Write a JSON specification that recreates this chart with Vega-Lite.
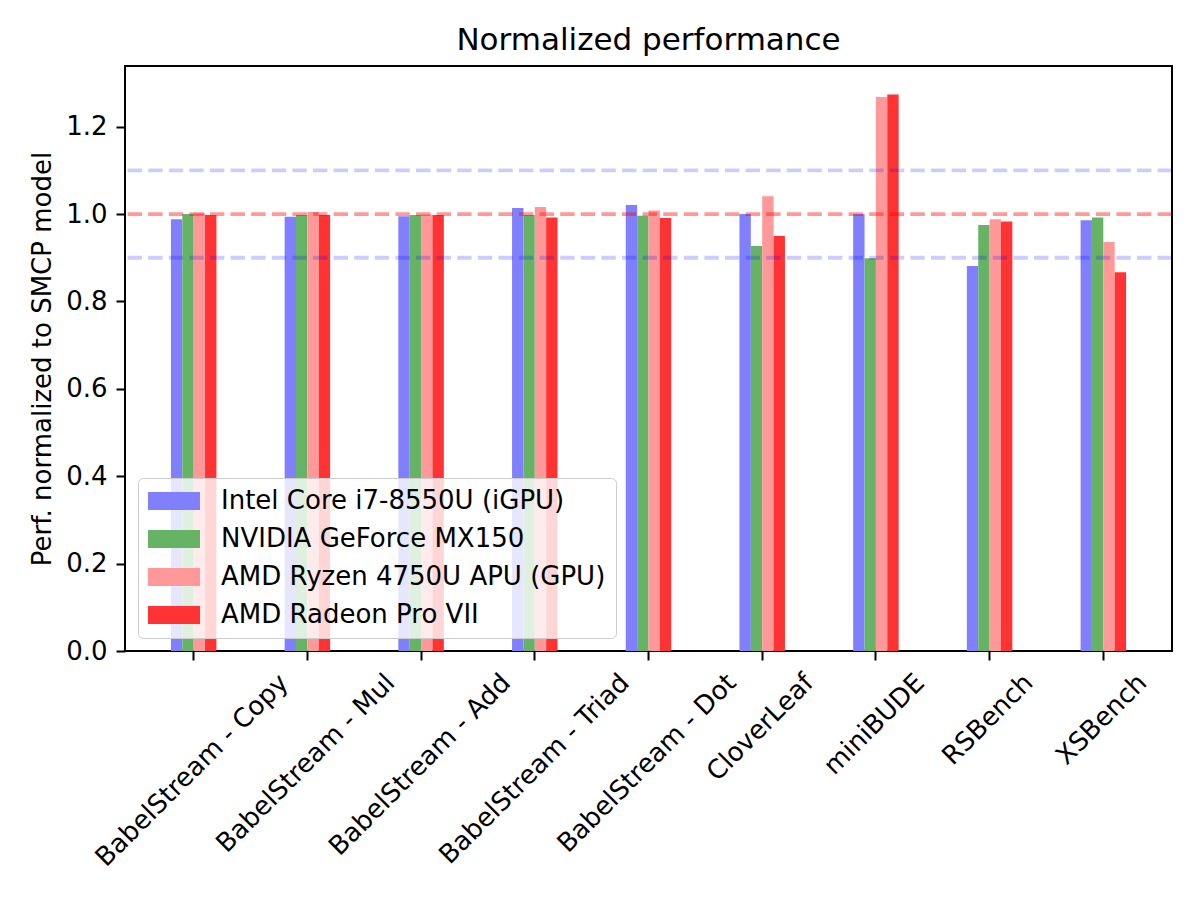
{
  "$schema": "https://vega.github.io/schema/vega-lite/v6.json",
  "autosize": {"type": "none"},
  "padding": {"left": 125, "top": 66, "right": 28, "bottom": 249},
  "width": 1047,
  "height": 585,
  "background": "white",
  "config": {
    "font": "DejaVu Sans",
    "view": {"stroke": "black", "strokeWidth": 2},
    "axis": {
      "labelFont": "DejaVu Sans",
      "titleFont": "DejaVu Sans",
      "labelFontSize": 26,
      "titleFontSize": 26,
      "titleFontWeight": "normal",
      "labelColor": "black",
      "titleColor": "black",
      "tickColor": "black",
      "tickSize": 9,
      "tickWidth": 2,
      "domain": false,
      "grid": false,
      "labelPadding": 9
    },
    "legend": {
      "labelFont": "DejaVu Sans",
      "labelFontSize": 26,
      "labelColor": "black",
      "labelLimit": 0
    }
  },
  "title": {
    "text": "Normalized performance",
    "fontSize": 31,
    "fontWeight": "normal",
    "font": "DejaVu Sans",
    "color": "black",
    "offset": 9
  },
  "data": {
    "values": [
      {"benchmark": "BabelStream - Copy", "device": "Intel Core i7-8550U (iGPU)", "value": 0.988},
      {"benchmark": "BabelStream - Copy", "device": "NVIDIA GeForce MX150", "value": 1.0},
      {"benchmark": "BabelStream - Copy", "device": "AMD Ryzen 4750U APU (GPU)", "value": 1.002},
      {"benchmark": "BabelStream - Copy", "device": "AMD Radeon Pro VII", "value": 0.998},
      {"benchmark": "BabelStream - Mul", "device": "Intel Core i7-8550U (iGPU)", "value": 0.994},
      {"benchmark": "BabelStream - Mul", "device": "NVIDIA GeForce MX150", "value": 0.998},
      {"benchmark": "BabelStream - Mul", "device": "AMD Ryzen 4750U APU (GPU)", "value": 1.005},
      {"benchmark": "BabelStream - Mul", "device": "AMD Radeon Pro VII", "value": 0.998},
      {"benchmark": "BabelStream - Add", "device": "Intel Core i7-8550U (iGPU)", "value": 0.995},
      {"benchmark": "BabelStream - Add", "device": "NVIDIA GeForce MX150", "value": 0.998},
      {"benchmark": "BabelStream - Add", "device": "AMD Ryzen 4750U APU (GPU)", "value": 0.999},
      {"benchmark": "BabelStream - Add", "device": "AMD Radeon Pro VII", "value": 0.998},
      {"benchmark": "BabelStream - Triad", "device": "Intel Core i7-8550U (iGPU)", "value": 1.014},
      {"benchmark": "BabelStream - Triad", "device": "NVIDIA GeForce MX150", "value": 0.998},
      {"benchmark": "BabelStream - Triad", "device": "AMD Ryzen 4750U APU (GPU)", "value": 1.016},
      {"benchmark": "BabelStream - Triad", "device": "AMD Radeon Pro VII", "value": 0.992},
      {"benchmark": "BabelStream - Dot", "device": "Intel Core i7-8550U (iGPU)", "value": 1.021},
      {"benchmark": "BabelStream - Dot", "device": "NVIDIA GeForce MX150", "value": 0.996},
      {"benchmark": "BabelStream - Dot", "device": "AMD Ryzen 4750U APU (GPU)", "value": 1.008},
      {"benchmark": "BabelStream - Dot", "device": "AMD Radeon Pro VII", "value": 0.991},
      {"benchmark": "CloverLeaf", "device": "Intel Core i7-8550U (iGPU)", "value": 1.0},
      {"benchmark": "CloverLeaf", "device": "NVIDIA GeForce MX150", "value": 0.927},
      {"benchmark": "CloverLeaf", "device": "AMD Ryzen 4750U APU (GPU)", "value": 1.041},
      {"benchmark": "CloverLeaf", "device": "AMD Radeon Pro VII", "value": 0.95},
      {"benchmark": "miniBUDE", "device": "Intel Core i7-8550U (iGPU)", "value": 1.0},
      {"benchmark": "miniBUDE", "device": "NVIDIA GeForce MX150", "value": 0.899},
      {"benchmark": "miniBUDE", "device": "AMD Ryzen 4750U APU (GPU)", "value": 1.268},
      {"benchmark": "miniBUDE", "device": "AMD Radeon Pro VII", "value": 1.274},
      {"benchmark": "RSBench", "device": "Intel Core i7-8550U (iGPU)", "value": 0.881},
      {"benchmark": "RSBench", "device": "NVIDIA GeForce MX150", "value": 0.975},
      {"benchmark": "RSBench", "device": "AMD Ryzen 4750U APU (GPU)", "value": 0.988},
      {"benchmark": "RSBench", "device": "AMD Radeon Pro VII", "value": 0.983},
      {"benchmark": "XSBench", "device": "Intel Core i7-8550U (iGPU)", "value": 0.986},
      {"benchmark": "XSBench", "device": "NVIDIA GeForce MX150", "value": 0.992},
      {"benchmark": "XSBench", "device": "AMD Ryzen 4750U APU (GPU)", "value": 0.936},
      {"benchmark": "XSBench", "device": "AMD Radeon Pro VII", "value": 0.867}
    ]
  },
  "layer": [
    {
      "mark": {"type": "bar", "strokeWidth": 0},
      "encoding": {
        "x": {
          "field": "benchmark",
          "type": "nominal",
          "sort": null,
          "scale": {"paddingInner": 0.6, "paddingOuter": 0.404},
          "axis": {
            "title": null,
            "labelAngle": -45,
            "labelAlign": "right",
            "labelBaseline": "top",
            "labelOverlap": false,
            "labelLimit": 0,
            "labelBound": false,
            "bandPosition": 0.5,
            "labelOffset": {
              "condition": [
                {"test": "datum.value === 'BabelStream - Copy'", "value": 81},
                {"test": "datum.value === 'BabelStream - Mul'", "value": 74},
                {"test": "datum.value === 'BabelStream - Add'", "value": 76},
                {"test": "datum.value === 'BabelStream - Triad'", "value": 81},
                {"test": "datum.value === 'BabelStream - Dot'", "value": 74},
                {"test": "datum.value === 'CloverLeaf'", "value": 38},
                {"test": "datum.value === 'miniBUDE'", "value": 35},
                {"test": "datum.value === 'RSBench'", "value": 30}
              ],
              "value": 30
            }
          }
        },
        "xOffset": {
          "field": "device",
          "type": "nominal",
          "sort": null,
          "scale": {"paddingInner": 0, "paddingOuter": 0}
        },
        "y": {
          "field": "value",
          "type": "quantitative",
          "title": "Perf. normalized to SMCP model",
          "scale": {"domain": [0, 1.339], "nice": false, "zero": true},
          "axis": {"values": [0, 0.2, 0.4, 0.6, 0.8, 1.0, 1.2], "format": ".1f", "titlePadding": 10}
        },
        "color": {
          "field": "device",
          "type": "nominal",
          "sort": null,
          "scale": {
            "domain": ["Intel Core i7-8550U (iGPU)", "NVIDIA GeForce MX150", "AMD Ryzen 4750U APU (GPU)", "AMD Radeon Pro VII"],
            "range": ["#8080ff", "#66b366", "#ff9999", "#ff3333"]
          },
          "legend": {
            "title": null,
            "orient": "bottom-left",
            "offset": 13,
            "symbolType": "M-1,-0.7H3V0.7H-1Z",
            "symbolSize": 676,
            "symbolStrokeWidth": 0,
            "symbolOpacity": 1,
            "labelOffset": 47,
            "labelLimit": 0,
            "rowPadding": 12,
            "padding": 10,
            "strokeColor": "#cccccc",
            "fillColor": "rgba(255,255,255,0.8)",
            "cornerRadius": 5
          }
        }
      }
    },
    {
      "data": {"values": [{"value": 0.9}, {"value": 1.1}]},
      "mark": {"type": "rule", "color": "blue", "strokeOpacity": 0.2, "strokeWidth": 3.9, "strokeDash": [14.4, 6.2]},
      "encoding": {
        "y": {"field": "value", "type": "quantitative", "title": "Perf. normalized to SMCP model"}
      }
    },
    {
      "data": {"values": [{"value": 1.0}]},
      "mark": {"type": "rule", "color": "red", "strokeOpacity": 0.4, "strokeWidth": 3.9, "strokeDash": [14.4, 6.2]},
      "encoding": {
        "y": {"field": "value", "type": "quantitative", "title": "Perf. normalized to SMCP model"}
      }
    }
  ]
}
